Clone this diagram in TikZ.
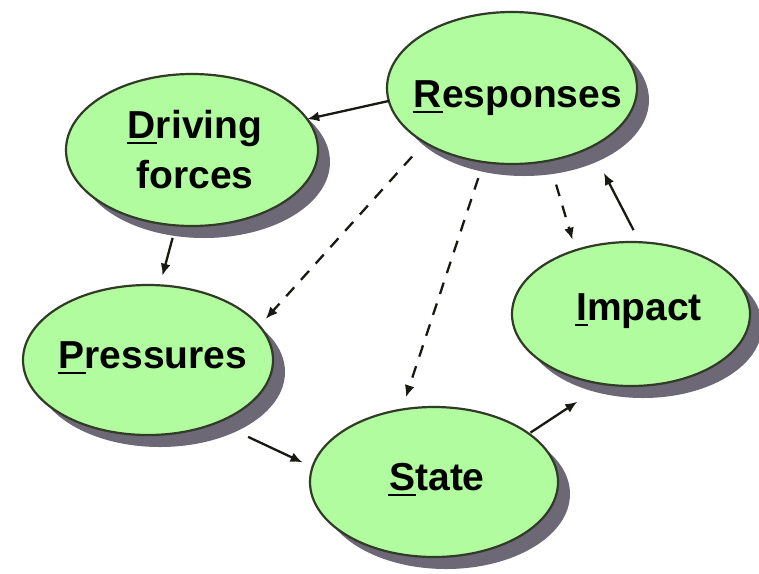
\documentclass[tikz,border=0pt]{standalone}
\usepackage{fontspec}
\setmainfont{Liberation Sans}
\usetikzlibrary{shapes.geometric,arrows.meta,shadows}
\definecolor{bubblefill}{RGB}{176,252,158}
\definecolor{bubbleline}{RGB}{50,58,40}
\definecolor{bubbleshadow}{RGB}{108,104,118}
\definecolor{arrowcol}{RGB}{25,25,20}
\newcommand\ulfirst[1]{\setbox0=\hbox{#1}\rlap{\kern-1pt\rule[-6pt]{\dimexpr\wd0+2pt\relax}{2.5pt}}\box0}
\newcommand\placetext[3]{\raisebox{#2}[0pt][0pt]{\makebox[0pt]{\hspace*{#1}#3}}}
\begin{document}
\begin{tikzpicture}[x=1pt,y=-1pt,
  bubble/.style={ellipse, draw=bubbleline, line width=2.2pt, fill=bubblefill,
    inner sep=0pt, outer sep=0pt,
    general shadow={fill=bubbleshadow, shadow xshift=12pt, shadow yshift=-12pt},
    font=\bfseries\fontsize{39}{50}\selectfont, text=black},
  link/.style={draw=arrowcol, line width=2.3pt, -{Latex[length=12pt,width=10pt]}},
  dlink/.style={link, dash pattern=on 12pt off 10pt}]
\useasboundingbox (0,0) rectangle (759,573);

\node[bubble, minimum width=250pt, minimum height=152pt] (resp) at (512,88)
  {\placetext{12pt}{-19pt}{\ulfirst{R}esponses}};
\node[bubble, minimum width=252pt, minimum height=152pt] (drive) at (192,150)
  {\placetext{6pt}{12pt}{\ulfirst{D}riving}\placetext{6pt}{-38pt}{forces}};
\node[bubble, minimum width=250pt, minimum height=150pt] (press) at (148,360)
  {\placetext{10pt}{-8pt}{\ulfirst{P}ressures}};
\node[bubble, minimum width=248pt, minimum height=150pt] (state) at (434,482)
  {\placetext{6pt}{-8pt}{\ulfirst{S}tate}};
\node[bubble, minimum width=238pt, minimum height=144pt] (impact) at (631,314)
  {\placetext{16pt}{-6pt}{\ulfirst{I}mpact}};

\draw[link] (resp.186.9) -- (drive.15.4);
\draw[link, shorten <=13pt, shorten >=10pt] (drive.258.8) -- (press.81.7);
\draw[dlink, shorten <=19pt, shorten >=9.5pt] (resp.212.6) -- (press.17.6);
\draw[dlink, shorten <=17pt, shorten >=13pt] (resp.249.6) -- (state.114.8);
\draw[dlink, shorten <=25pt, shorten >=11pt] (resp.297.2) -- (impact.131.6);
\draw[link, shorten <=13.6pt, shorten >=29pt] (impact.83.6) -- (resp.323.2);
\draw[link, shorten <=34pt, shorten >=11pt] (press.318.1) -- (state.173.4);
\draw[link, shorten <=2pt, shorten >=32pt] (state.27.4) -- (impact.249.4);
\end{tikzpicture}
\end{document}
